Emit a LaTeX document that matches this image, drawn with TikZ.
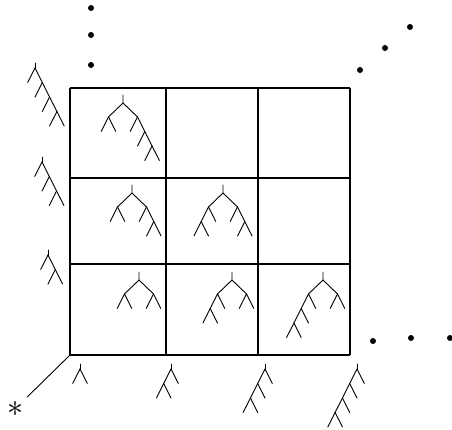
\documentclass[tikz,border=0pt]{standalone}
\usepackage{amsmath}
\usepackage{tikz}
\tikzset{>=latex}
\tikzstyle{tree}=[black,line width=0.9pt,line cap=round]
\tikzstyle{grid line}=[black,line width=1.2pt]
\tikzstyle{dot}=[black]
\def\dx{7.3}
\def\dy{14.5}
\def\st{5}
% comb: #1 start point, #2 leaves, #3 side (1 right, -1 left)
\newcommand{\Comb}[3]{%
  \pgfmathtruncatemacro\m{#2-2}
  \draw[tree] (#1) -- ++({#3*(\m+1)*\dx},{(\m+1)*\dy});
  \foreach \k in {0,...,\m}{
    \draw[tree] (#1) ++({#3*\k*\dx},{\k*\dy}) -- ++({-#3*\dx},\dy);
  }
}
% comb with a stem on top
\newcommand{\StemComb}[3]{%
  \draw[tree] (#1) -- ++(0,\st) coordinate (c);
  \Comb{c}{#2}{#3}
}
% root with left comb (#2 leaves) and right comb (#3 leaves)
\newcommand{\CellTree}[3]{%
  \draw[tree] (#1) -- ++(0,8) coordinate (r)
    -- ++(-14.5,14) coordinate (lc);
  \draw[tree] (r) -- ++(14.5,14) coordinate (rc);
  \Comb{lc}{#2}{-1}
  \Comb{rc}{#3}{1}
}

\begin{document}
\begin{tikzpicture}[x=1pt,y=-1pt]
  \useasboundingbox (0,0) rectangle (452,430);
  \coordinate (O) at (70,355);

  % GRID
  \foreach \x in {70,166,258,350}
    \draw[grid line] (\x,88) -- (\x,355);
  \foreach \y in {88,178,264,355}
    \draw[grid line] (70,\y) -- (350,\y);

  % DOTS
  \foreach \p in {(91,8),(91,35),(91,65),(360,70),(385,48),(410,27),(373,341),(411,338),(450,338)}
    \fill[dot] \p circle (3);

  % LEFT AXIS
  \foreach \x/\y/\n in {48/250/3,42/157/4,35/63/5}
    \StemComb{\x,\y}{\n}{1};

  % BOTTOM AXIS
  \foreach \x/\n in {80/2,171/3,265/4,357/5}
    \StemComb{\x,364}{\n}{-1};

  % CELLS
  \foreach \x/\y/\a/\b in {123/95/2/4,132/185/2/3,223/185/3/3,139/272/2/2,232/272/3/2,323/272/4/2}
    \CellTree{\x,\y}{\a}{\b};

  % STAR
  \node[scale=3.2,inner sep=1.2pt] (star) at (15,409) {$\ast$};
  \draw[line width=0.9pt] (O) -- (star);
\end{tikzpicture}
\end{document}
